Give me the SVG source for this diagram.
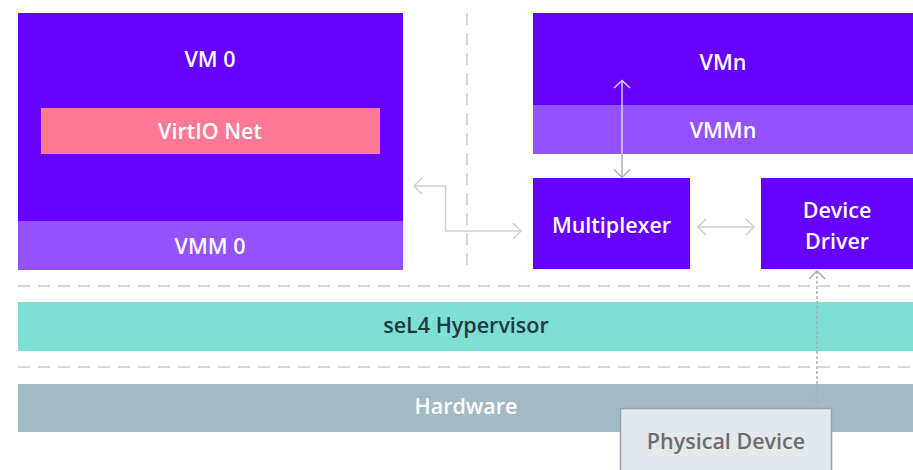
<svg xmlns="http://www.w3.org/2000/svg" width="913" height="470" viewBox="0 0 913 470">
<style>
text{font-family:"Open Sans","Noto Sans","Liberation Sans",sans-serif;font-weight:600;font-size:21.5px;text-anchor:middle}
.w{fill:#ffffff}
.vm{fill:#6600ff}
.vmm{fill:#9351ff}
.sep{stroke:#cccccc;stroke-width:1.5;stroke-dasharray:12 8;fill:none}
.con{fill:none;stroke-width:1.5}
</style>
<defs>
<marker id="ahl" viewBox="0 0 20 20" refX="10" refY="10" markerWidth="20" markerHeight="20" markerUnits="userSpaceOnUse" orient="auto-start-reverse">
<path d="M2 2 L10 10 L2 18" fill="none" stroke="#cfcfcf" stroke-width="1.5"/>
</marker>
<marker id="ahg" viewBox="0 0 20 20" refX="10" refY="10" markerWidth="20" markerHeight="20" markerUnits="userSpaceOnUse" orient="auto-start-reverse">
<path d="M2 2 L10 10 L2 18" fill="none" stroke="#a7b0b8" stroke-width="1.5"/>
</marker>
</defs>
<rect width="913" height="470" fill="#ffffff"/>
<g id="separators">
<line class="sep" x1="467" y1="13" x2="467" y2="272"/>
<line class="sep" x1="18" y1="286" x2="913" y2="286"/>
<line class="sep" x1="18" y1="367" x2="913" y2="367"/>
</g>
<g id="vm0">
<rect class="vm" x="18" y="13" width="385" height="208"/>
<rect class="vmm" x="18" y="221" width="385" height="49"/>
<text class="w" x="210" y="67">VM 0</text>
<text class="w" x="210" y="254">VMM 0</text>
</g>
<g id="virtio">
<rect x="41" y="108" width="339" height="46" fill="#ff7896"/>
<text class="w" x="210" y="139">VirtIO Net</text>
</g>
<g id="vmn">
<rect class="vm" x="533" y="13" width="380" height="92"/>
<rect class="vmm" x="533" y="105" width="380" height="49"/>
<text class="w" x="723" y="70">VMn</text>
<text class="w" x="723" y="138">VMMn</text>
</g>
<g id="multiplexer">
<rect class="vm" x="533" y="178" width="157" height="91"/>
<text class="w" x="611.5" y="233">Multiplexer</text>
</g>
<g id="driver">
<rect class="vm" x="761" y="178" width="152" height="91"/>
<text class="w" x="837" y="218">Device</text>
<text class="w" x="837" y="249">Driver</text>
</g>
<g id="hypervisor">
<rect x="18" y="302" width="895" height="49" fill="#7edfd4"/>
<text x="466" y="333" fill="#1f3a40">seL4 Hypervisor</text>
</g>
<g id="hardware">
<rect x="18" y="384" width="895" height="48" fill="#a3bac4"/>
<text class="w" x="466" y="414">Hardware</text>
</g>
<g id="connectors">
<polyline class="con" stroke="#cfcfcf" points="414,186 445.5,186 445.5,231 521,231" marker-start="url(#ahl)" marker-end="url(#ahl)"/>
<line class="con" stroke="#cfcfcf" x1="698" y1="227" x2="754" y2="227" marker-start="url(#ahl)" marker-end="url(#ahl)"/>
<line class="con" stroke="#d8d0f0" x1="622" y1="80.5" x2="622" y2="154"/>
<line class="con" stroke="#a7b0b8" x1="622" y1="154" x2="622" y2="177.5" marker-end="url(#ahg)"/>
<path d="M614 88 L622 80.5 L630 88" fill="none" stroke="#d8d0f0" stroke-width="1.5"/>
<line class="con" stroke="#a7b0b8" stroke-dasharray="3 2" x1="817" y1="271" x2="817" y2="403" marker-start="url(#ahg)" marker-end="url(#ahg)"/>
</g>
<g id="physical">
<rect x="620.5" y="408.5" width="211" height="64" fill="#e3e8ec" stroke="#9aa0a6" stroke-width="1.5"/>
<text x="726" y="449" fill="#6e6e72">Physical Device</text>
</g>
</svg>
